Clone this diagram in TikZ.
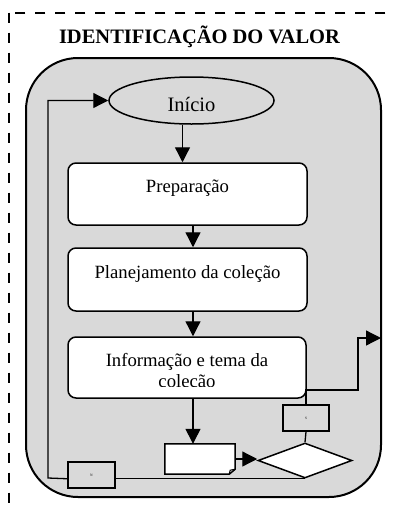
\documentclass[tikz,border=0pt]{standalone}
\usepackage{fontspec}
\setmainfont{Liberation Serif}
\usetikzlibrary{shapes.geometric,arrows.meta,calc}
\definecolor{panelgray}{HTML}{D9D9D9}
\begin{document}
\begin{tikzpicture}[x=1pt,y=-1pt,
  frame/.style={line width=2.2pt, dash pattern=on 10pt off 10pt},
  panelbox/.style={draw, line width=2pt, fill=panelgray, rounded corners=52pt, minimum width=355pt, minimum height=439pt, inner sep=0pt},
  proc/.style={draw, line width=1.5pt, rounded corners=8pt, fill=white, minimum width=239pt, inner sep=0pt},
  bodytext/.style={font=\fontsize{18.7}{22}\selectfont, align=center, inner sep=0pt},
  conn/.style={line width=1.3pt},
  arr/.style={conn, -{Triangle[length=15pt,width=15pt]}},
  tag/.style={draw, line width=1.5pt, fill=panelgray, inner sep=0pt, font=\fontsize{3.5}{4}\selectfont},
  startshape/.style={draw, ellipse, line width=1.5pt, fill=panelgray, minimum width=165pt, minimum height=47pt, inner sep=0pt},
  decision/.style={draw, diamond, line width=1.5pt, fill=white, minimum width=94pt, minimum height=35pt, inner sep=0pt, aspect=2.7}
]
\useasboundingbox (0,0) rectangle (392,507);
\clip (0,0) rectangle (392,507);

% dashed outer frame
\draw[frame] (9.3,12.7) rectangle (420,540);

% title
\node[anchor=base, inner sep=0pt, font=\fontsize{20.5}{24}\selectfont\bfseries] (title) at (199.5,43.3) {IDENTIFICAÇÃO DO VALOR};

% gray panel
\node[panelbox] (panel) at (203.5,277.5) {};

% start ellipse
\node[startshape] (ell) at (191.5,100.5) {};
\node[anchor=base, inner sep=0pt, font=\fontsize{20.5}{24}\selectfont] (elltext) at (191.5,111.5) {Início};

% process boxes
\node[proc, minimum height=62pt] (prep) at (187.5,194) {};
\node[bodytext, anchor=base] (preptext) at (187.5,192.7) {Preparação};

\node[proc, minimum height=63pt] (plan) at (187.5,279.5) {};
\node[bodytext, anchor=base] (plantext) at (187.5,278.5) {Planejamento da coleção};

\node[proc, minimum height=61pt, minimum width=238pt] (info) at (187,367.5) {};
\begin{scope}
\clip (68,337) rectangle (306,386.5);
\node[bodytext, anchor=base] (infotext1) at (187,366) {Informação e tema da};
\node[bodytext, anchor=base] (infotext2) at (187,387) {coleção};
\end{scope}

% document shape (folded bottom-right corner)
\node[minimum width=70pt, minimum height=30pt, inner sep=0pt] (doc) at (200,459) {};
\draw[line width=1.5pt, fill=white, line join=miter]
  (doc.north west) -- (doc.north east) -- ([yshift=5pt]doc.south east)
  -- ([xshift=-6pt]doc.south east) -- (doc.south west) -- cycle;
\draw[line width=1pt] ([xshift=-6pt]doc.south east) -- ([xshift=-5pt,yshift=4pt]doc.south east) -- ([yshift=5pt]doc.south east);

% decision
\node[decision] (dia) at (305,460.5) {};

% yes / no tags
\node[tag, minimum width=46pt, minimum height=26pt] (sbox) at (306,418) {S};
\node[tag, minimum width=47pt, minimum height=26pt] (nbox) at (91.5,475) {N};

% main flow arrows
\draw[arr] ([xshift=-9pt]ell.south) -- ([xshift=-5pt]prep.north);
\draw[arr] ([xshift=5.5pt]prep.south) -- ([xshift=5.5pt]plan.north);
\draw[arr] ([xshift=5.5pt]plan.south) -- ([xshift=6pt]info.north);
\draw[arr] ([xshift=6pt]info.south) -- ([xshift=-7pt]doc.north);
\draw[arr] (doc.east) -- (doc.east -| dia.west);

% yes branch
\coordinate (r1) at (358,390);
\coordinate (exitR) at (381,338);
\draw[conn] (dia.north) -- (sbox.south);
\draw[arr] (sbox.north) |- (r1) |- (exitR);

% no branch
\coordinate (l1) at (48,478);
\draw[conn] (dia.south) -- (nbox.east |- dia.south);
\draw[arr] (nbox.west |- dia.south) -- (l1) |- (ell.west);
\end{tikzpicture}
\end{document}
